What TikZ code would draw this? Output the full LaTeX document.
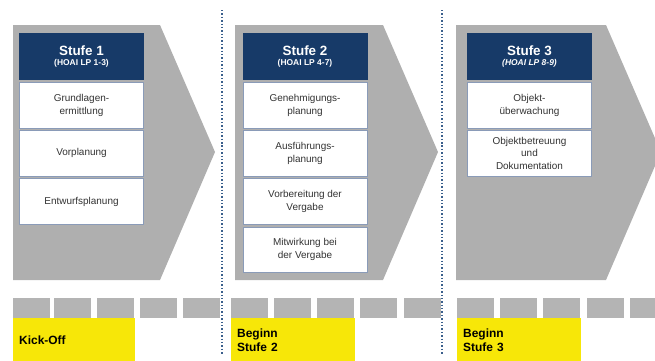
\documentclass[tikz,border=0pt]{standalone}
\usepackage{fontspec}
\setmainfont{Liberation Sans}
\usepackage{tikz}
\usetikzlibrary{positioning}
\definecolor{chevrongray}{HTML}{AFAFAF}
\definecolor{segmentgray}{HTML}{B4B4B4}
\definecolor{headerblue}{HTML}{173A68}
\definecolor{kickyellow}{HTML}{F7E708}
\definecolor{boxline}{HTML}{8A9BB8}
\definecolor{dotblue}{HTML}{3A5F8C}

\begin{document}
\begin{tikzpicture}[
    x=1bp, y=-1bp,
    node distance=2bp,
    chevron/.style={fill=chevrongray},
    header/.style={rectangle, fill=headerblue, text=white, minimum width=125bp, minimum height=47bp, inner sep=0pt, align=center},
    phase/.style={rectangle, draw=boxline, fill=white, text=black!80, line width=0.6pt, minimum width=124bp, minimum height=45.5bp, inner sep=0pt, align=center, font=\fontsize{10}{12.5}\selectfont},
    segment/.style={rectangle, fill=segmentgray, minimum width=37bp, minimum height=20bp, inner sep=0pt, anchor=north west},
    milestone/.style={rectangle, fill=kickyellow, minimum height=44bp, inner xsep=6bp, inner ysep=0pt, text width=111bp, anchor=north west, align=left, font=\fontsize{12}{14}\selectfont\bfseries},
    divider/.style={dotblue, dotted, line width=1.4pt}
]
\useasboundingbox (0,0) rectangle (655,360);

% Chevrons
\fill[chevron] (13,25) -- (160,25) -- (215,152) -- (160,280) -- (13,280) -- cycle;
\fill[chevron] (235,25) -- (383,25) -- (438,152) -- (383,280) -- (235,280) -- cycle;
\fill[chevron] (456,25) -- (606,25) -- (661,152) -- (606,280) -- (456,280) -- cycle;

% Stufe 1
\node[header] (stufe1) at (81.5,56.5) {{\fontsize{13.5}{13.5}\selectfont\bfseries Stufe 1}\\[-2bp]{\fontsize{8.5}{9}\selectfont\bfseries (HOAI LP 1-3)}};
\node[phase, below=of stufe1] (grundlagen) {Grundlagen-\\ermittlung};
\node[phase, below=of grundlagen] (vorplanung) {Vorplanung};
\node[phase, below=of vorplanung] (entwurf) {Entwurfsplanung};

% Stufe 2
\node[header] (stufe2) at (305,56.5) {{\fontsize{13.5}{13.5}\selectfont\bfseries Stufe 2}\\[-2bp]{\fontsize{8.5}{9}\selectfont\bfseries (HOAI LP 4-7)}};
\node[phase, below=of stufe2] (genehmigung) {Genehmigungs-\\planung};
\node[phase, below=of genehmigung] (ausfuehrung) {Ausführungs-\\planung};
\node[phase, below=of ausfuehrung] (vorbereitung) {Vorbereitung der\\Vergabe};
\node[phase, below=of vorbereitung] (mitwirkung) {Mitwirkung bei\\der Vergabe};

% Stufe 3
\node[header] (stufe3) at (529.5,56.5) {{\fontsize{13.5}{13.5}\selectfont\bfseries Stufe 3}\\[-2bp]{\fontsize{8.5}{9}\selectfont\bfseries\itshape (HOAI LP 8-9)}};
\node[phase, below=of stufe3] (ueberwachung) {Objekt-\\überwachung};
\node[phase, below=of ueberwachung] (betreuung) {Objektbetreuung\\und\\Dokumentation};

% Dividers
\draw[divider] (222,10) -- (222,355);
\draw[divider] (442,10) -- (442,355);

% Time line
\node[segment] (seg11) at (13,298) {};
\node[segment] (seg12) at (54,298) {};
\node[segment] (seg13) at (97,298) {};
\node[segment] (seg14) at (140,298) {};
\node[segment] (seg15) at (183,298) {};
\node[segment] (seg21) at (231,298) {};
\node[segment] (seg22) at (274,298) {};
\node[segment] (seg23) at (317,298) {};
\node[segment] (seg24) at (360,298) {};
\node[segment] (seg25) at (404,298) {};
\node[segment] (seg31) at (457,298) {};
\node[segment] (seg32) at (500,298) {};
\node[segment] (seg33) at (543,298) {};
\node[segment] (seg34) at (587,298) {};
\node[segment] (seg35) at (630,298) {};

% Milestones
\node[milestone, text width=110bp] (kickoff) at (13,318) {Kick-Off};
\node[milestone, text width=112bp] (beginn2) at (231,318) {Beginn\\Stufe 2};
\node[milestone, text width=112bp] (beginn3) at (457,318) {Beginn\\Stufe 3};

\end{tikzpicture}
\end{document}
